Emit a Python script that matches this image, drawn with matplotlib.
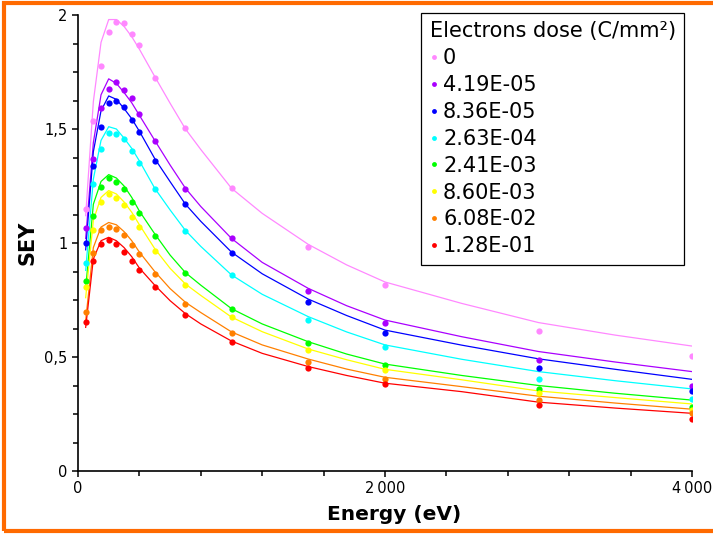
import matplotlib
matplotlib.use("Agg")
import matplotlib.pyplot as plt
from matplotlib.lines import Line2D
from matplotlib.patches import Rectangle
from matplotlib.ticker import MultipleLocator, FixedLocator, FixedFormatter


#  DATA
energy = [50, 100, 150, 200, 250, 300, 350, 400, 500, 700, 1000, 1500, 2000, 3000, 4000]  # eV

dose_labels = ["0", "4.19E-05", "8.36E-05", "2.63E-04",
               "2.41E-03", "8.60E-03", "6.08E-02", "1.28E-01"]

# measured SEY points
sey_0      = [1.149, 1.536, 1.778, 1.927, 1.971, 1.966, 1.917, 1.868, 1.724, 1.506, 1.243, 0.984, 0.816, 0.615, 0.503]
sey_419e05 = [1.067, 1.370, 1.592, 1.675, 1.708, 1.671, 1.637, 1.566, 1.449, 1.235, 1.023, 0.791, 0.649, 0.487, 0.374]
sey_836e05 = [0.999, 1.339, 1.509, 1.614, 1.623, 1.595, 1.539, 1.488, 1.361, 1.170, 0.958, 0.740, 0.604, 0.450, 0.349]
sey_263e04 = [0.911, 1.257, 1.412, 1.482, 1.478, 1.456, 1.404, 1.352, 1.237, 1.054, 0.858, 0.664, 0.544, 0.404, 0.314]
sey_241e03 = [0.835, 1.118, 1.244, 1.284, 1.266, 1.235, 1.178, 1.133, 1.031, 0.867, 0.712, 0.561, 0.465, 0.358, 0.281]
sey_860e03 = [0.806, 1.057, 1.178, 1.213, 1.199, 1.167, 1.115, 1.072, 0.965, 0.816, 0.674, 0.531, 0.443, 0.341, 0.268]
sey_608e02 = [0.697, 0.955, 1.057, 1.072, 1.063, 1.035, 0.991, 0.950, 0.866, 0.734, 0.607, 0.480, 0.404, 0.311, 0.253]
sey_128e01 = [0.655, 0.920, 0.997, 1.015, 0.994, 0.962, 0.922, 0.882, 0.806, 0.684, 0.566, 0.450, 0.382, 0.291, 0.229]

# fitted curves
fit_energy = [50, 100, 150, 200, 250, 300, 350, 400, 500, 600, 700, 800, 1000,
              1200, 1500, 1750, 2000, 2500, 3000, 3500, 4000]
fit_0      = [1.12, 1.62, 1.88, 1.98, 1.98, 1.95, 1.905, 1.85, 1.73, 1.613, 1.50, 1.41, 1.24,
              1.13, 0.994, 0.904, 0.829, 0.735, 0.651, 0.596, 0.548]
fit_419e05 = [1.02, 1.44, 1.65, 1.72, 1.70, 1.66, 1.615, 1.56, 1.45, 1.342, 1.24, 1.16, 1.02,
              0.915, 0.801, 0.725, 0.662, 0.589, 0.524, 0.478, 0.436]
fit_836e05 = [0.97, 1.40, 1.58, 1.645, 1.63, 1.59, 1.545, 1.49, 1.37, 1.269, 1.17, 1.095, 0.96,
              0.865, 0.754, 0.682, 0.618, 0.552, 0.492, 0.446, 0.402]
fit_263e04 = [0.88, 1.28, 1.45, 1.51, 1.50, 1.46, 1.415, 1.36, 1.24, 1.145, 1.055, 0.985, 0.86,
              0.775, 0.677, 0.610, 0.553, 0.490, 0.436, 0.396, 0.360]
fit_241e03 = [0.80, 1.17, 1.27, 1.30, 1.285, 1.25, 1.20, 1.14, 1.04, 0.947, 0.87, 0.815, 0.712,
              0.645, 0.567, 0.513, 0.469, 0.419, 0.375, 0.341, 0.311]
fit_860e03 = [0.76, 1.10, 1.20, 1.23, 1.215, 1.18, 1.135, 1.08, 0.975, 0.889, 0.82, 0.77, 0.675,
              0.611, 0.535, 0.488, 0.446, 0.400, 0.351, 0.322, 0.294]
fit_608e02 = [0.66, 0.98, 1.07, 1.09, 1.08, 1.05, 1.01, 0.96, 0.875, 0.80, 0.74, 0.695, 0.61,
              0.553, 0.491, 0.447, 0.411, 0.370, 0.328, 0.298, 0.271]
fit_128e01 = [0.63, 0.93, 1.01, 1.025, 1.01, 0.98, 0.94, 0.89, 0.815, 0.747, 0.69, 0.645, 0.57,
              0.516, 0.458, 0.419, 0.385, 0.348, 0.302, 0.276, 0.253]

points = [sey_0, sey_419e05, sey_836e05, sey_263e04, sey_241e03, sey_860e03, sey_608e02, sey_128e01]
fits   = [fit_0, fit_419e05, fit_836e05, fit_263e04, fit_241e03, fit_860e03, fit_608e02, fit_128e01]
colors = ["#FF88FF", "#AA00FF", "#0000FF", "#00FFFF", "#00FF00", "#FFFF00", "#FF8000", "#FF0000"]


#  PLOT
plt.rcParams["font.family"] = ["DejaVu Sans"]
fig = plt.figure(figsize=(7.13, 5.34), dpi=100)
ax = fig.add_axes([78 / 713, 63 / 534, 614 / 713, 456 / 534])

for pts, fit, col in zip(points, fits, colors):
    ax.plot(fit_energy, fit, color=col, linewidth=0.9, zorder=2)
    ax.plot(energy, pts, "o", color=col, markersize=4.5, markeredgewidth=0, zorder=3)

ax.set_xlim(0, 4000)
ax.set_ylim(0, 2)

for side in ["top", "right"]:
    ax.spines[side].set_visible(False)
for side in ["left", "bottom"]:
    ax.spines[side].set_linewidth(1.2)

ax.xaxis.set_major_locator(FixedLocator([0, 2000, 4000]))
ax.xaxis.set_major_formatter(FixedFormatter(["0", "2\u2009000", "4\u2009000"]))
ax.xaxis.set_minor_locator(MultipleLocator(400))
ax.yaxis.set_major_locator(FixedLocator([0, 0.5, 1, 1.5, 2]))
ax.yaxis.set_major_formatter(FixedFormatter(["0", "0,5", "1", "1,5", "2"]))
ax.yaxis.set_minor_locator(MultipleLocator(0.125))
ax.tick_params(which="major", direction="out", length=4.5, width=1.1, labelsize=10.5, pad=3)
ax.tick_params(which="minor", direction="out", length=3.5, width=1.1)

ax.set_xlabel("Energy (eV)", fontsize=14.5, fontweight="bold", labelpad=6)
ax.xaxis.label.set_x(0.515)
ax.set_ylabel("SEY", fontsize=15, fontweight="bold", labelpad=5)

handles = [Line2D([], [], linestyle="none", marker="o", markersize=3.5,
                  markeredgewidth=0, color=c) for c in colors]
leg = ax.legend(handles, dose_labels, title="Electrons dose (C/mm²)",
                loc="upper right", bbox_to_anchor=(684 / 713, 521 / 534),
                bbox_transform=fig.transFigure, fontsize=15, title_fontsize=15,
                frameon=True, fancybox=False, edgecolor="black", framealpha=1,
                handlelength=0.4, handletextpad=0.25, borderpad=0.4,
                labelspacing=0.33, borderaxespad=0)
leg._legend_box.align = "left"
leg.get_frame().set_linewidth(0.9)

# orange border round the picture
fig.add_artist(Rectangle((4 / 713, 3 / 534), 1.2, 528 / 534, transform=fig.transFigure,
                         fill=False, edgecolor="#FF6A00", linewidth=3, clip_on=True))

plt.savefig("out.png", dpi=100)
